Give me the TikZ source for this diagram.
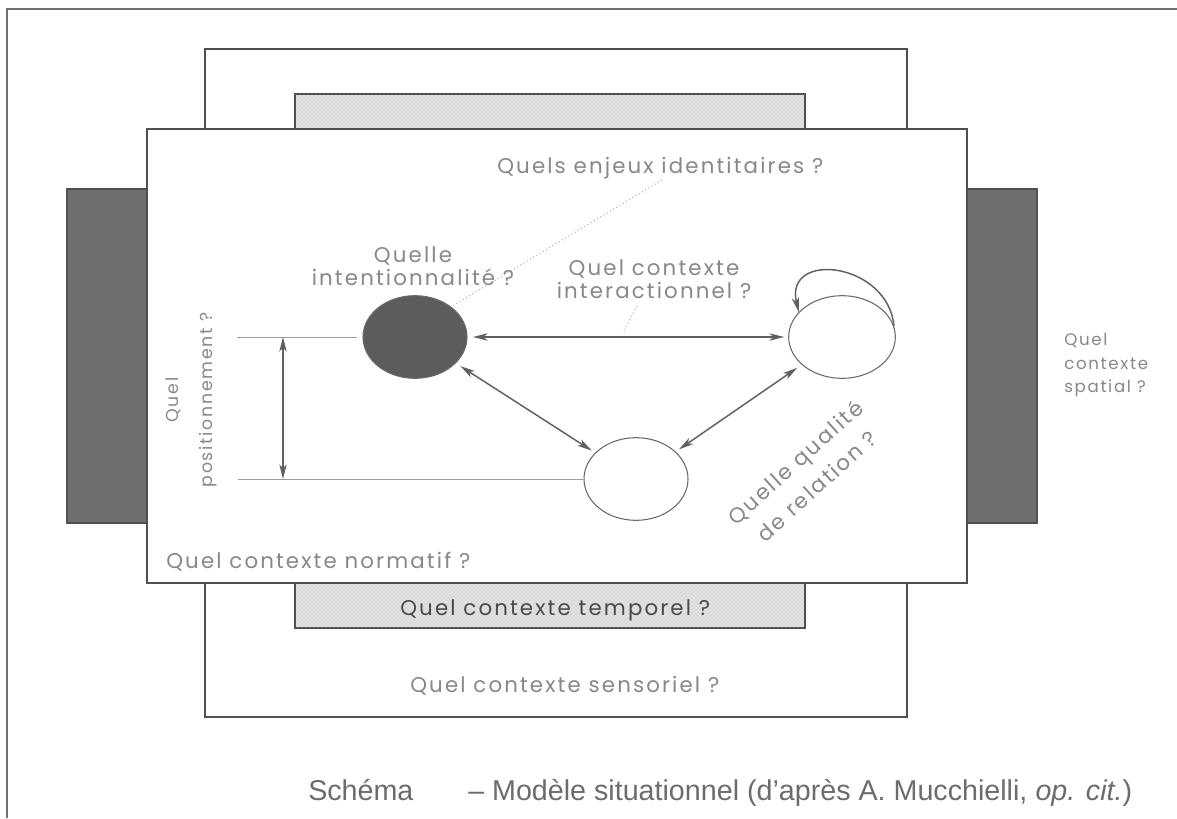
\documentclass[tikz,border=0pt]{standalone}
\usepackage{fontspec}
\setmainfont[LetterSpace=10]{Poppins}
\newfontfamily\capfont{Liberation Sans}
\usetikzlibrary{arrows.meta,shapes.geometric,patterns}

\definecolor{ink}{HTML}{505050}
\definecolor{framegray}{HTML}{707070}
\definecolor{labelgray}{HTML}{888888}
\definecolor{tempgray}{HTML}{4A4A4A}
\definecolor{barfill}{HTML}{6E6E6E}
\definecolor{discfill}{HTML}{5C5C5C}
\definecolor{stipfill}{HTML}{E6E6E6}
\definecolor{arrowgray}{HTML}{606060}
\definecolor{thingray}{HTML}{9C9C9C}
\definecolor{capgray}{HTML}{6C6C6C}

\tikzset{
  boxframe/.style={draw=ink, line width=1.4pt},
  actor/.style={ellipse, draw=ink!85, line width=0.8pt, inner sep=0pt,
    minimum width=78pt, minimum height=62pt},
  link/.style={draw=arrowgray, line width=1.1pt,
    {Stealth[length=11pt,width=5.5pt,inset=3pt]}-{Stealth[length=11pt,width=5.5pt,inset=3pt]},
    shorten <=4pt, shorten >=3pt},
  guide/.style={draw=thingray, line width=0.6pt},
  hint/.style={draw=thingray!75, line width=0.8pt, dotted},
  lbl/.style={text=labelgray, font=\fontsize{16}{17.25}\selectfont, inner sep=0pt, align=center},
  smalllbl/.style={text=labelgray, font=\fontsize{12.5}{17.6}\selectfont, inner sep=0pt, align=left},
  poslbl/.style={text=labelgray, font=\fontsize{13}{25.5}\selectfont, inner sep=0pt, align=center},
  rellbl/.style={text=labelgray, font=\fontsize{16}{24}\selectfont, inner sep=0pt, align=center},
  caption/.style={text=capgray, font=\capfont\fontsize{21.5}{24}\selectfont, inner sep=0pt},
}

\begin{document}
\begin{tikzpicture}[x=0.75pt, y=-0.75pt]
  \useasboundingbox (0,0) rectangle (1177,818);
  \fill[white] (0,0) rectangle (1177,818);

  % page frame
  \draw[draw=framegray, line width=1.2pt] (7,818) -- (7,9) -- (1177,9);

  % sensory context (back sheet)
  \draw[boxframe, fill=white] (205,49) rectangle (907,717);
  % temporal context (stippled sheet)
  \draw[boxframe, fill=stipfill] (295,94) rectangle (805,628);
  \fill[pattern=crosshatch dots, pattern color=black!38] (296,95) rectangle (804,627);
  % spatial context (dark band)
  \draw[boxframe, fill=barfill] (67,189) rectangle (1037,523);
  % normative context (front sheet)
  \draw[boxframe, fill=white] (147,129) rectangle (967,583);

  % actors
  \node[actor, fill=discfill] (intent) at (415,337) {};
  \node[actor, fill=white, minimum width=80pt] (partner) at (842,337) {};
  \node[actor, fill=white] (rel) at (636,479) {};

  % interactions
  \draw[link] (intent.east) -- (partner.west);
  \draw[link] (intent) -- (rel);
  \draw[link] (partner) -- (rel);
  \draw[draw=arrowgray, line width=1.1pt, -{Stealth[length=11pt,width=5.5pt,inset=3pt]}]
    (partner.12) .. controls (888,262) and (784,250) .. (partner.150);

  % positioning gauge
  \coordinate (ptop) at (237,337);
  \coordinate (pbot) at (238,479);
  \coordinate (pa) at (283,337);
  \coordinate (pb) at (283,479);
  \draw[guide] (ptop) -- ([xshift=-4pt]intent.west);
  \draw[guide] (pbot) -- (rel.west);
  \draw[link, line width=0.8pt, shorten <=0pt, shorten >=0pt] (pa) -- (pb);

  % leader lines
  \coordinate (enjfoot) at (662,180);
  \coordinate (itop) at (637,306);
  \coordinate (ibot) at (623,332);
  \draw[hint] (enjfoot) -- (intent.40);
  \draw[hint] (itop) -- (ibot);

  % questions
  \node[lbl, anchor=base west] (enjq) at (497,173) {Quels enjeux identitaires ?};
  \node[lbl] (intq) at (413,266) {Quelle\\intentionnalité ?};
  \node[lbl] (interq) at (654,279) {Quel contexte\\interactionnel ?};
  \node[poslbl, rotate=90] (posq) at (191,400) {Quel\\positionnement ?};
  \node[rellbl, rotate=42] (relq) at (806,474) {Quelle qualité\\de relation ?};
  \node[smalllbl, anchor=west] (spaq) at (1064,365) {Quel\\contexte\\spatial ?};
  \node[lbl, anchor=base west] (normq) at (166,568) {Quel contexte normatif ?};
  \node[lbl, anchor=base west, text=tempgray] (tempq) at (400,615) {Quel contexte temporel ?};
  \node[lbl, anchor=base west] (sensq) at (410,692) {Quel contexte sensoriel ?};

  % caption
  \node[caption, anchor=base west] (capa) at (308,800) {Schéma};
  \node[caption, anchor=base west] (capb) at (468,800) {– Modèle situationnel (d’après A. Mucchielli, {\itshape op. cit.})};
\end{tikzpicture}
\end{document}
